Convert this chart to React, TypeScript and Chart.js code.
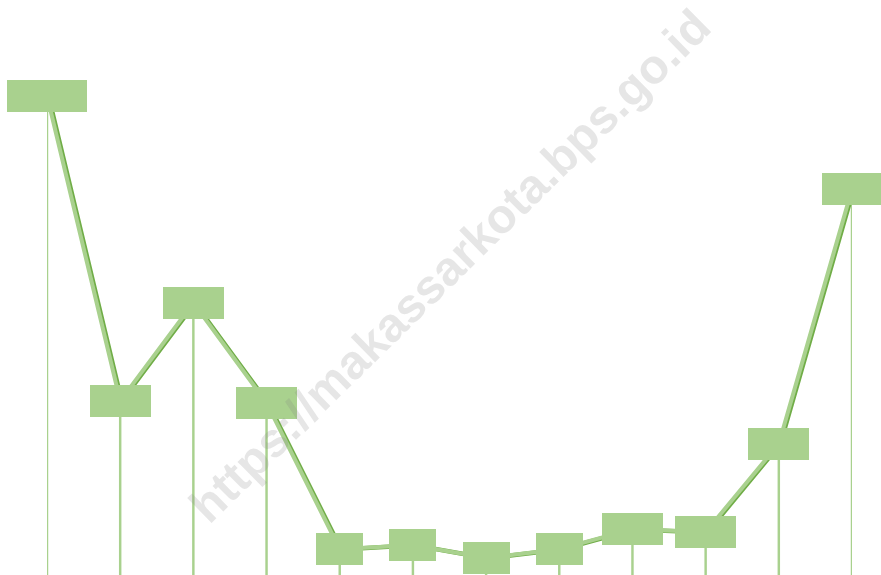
import React, { useEffect, useRef } from "react";
import { Chart, registerables } from "chart.js";

Chart.register(...registerables);

// Months (category axis, hidden in the picture)
const months = ["Jan", "Feb", "Mar", "Apr", "Mei", "Jun", "Jul", "Agu", "Sep", "Okt", "Nov", "Des"];
// Series values
const values = [115.0, 41.8, 65.3, 41.3, 6.2, 7.2, 4.1, 6.2, 11.0, 10.3, 31.5, 92.6];
const yMin = 0;
const yMax = 138;
const watermark = "https://makassarkota.bps.go.id";

const LIGHT = "#a9d18e";
const DARK = "#70ad47";

function boxWidth(v: number): number {
  const digits = Math.floor(Math.abs(v)).toString().length;
  if (digits >= 3) return 80;
  if (digits === 2) return 61;
  return 47;
}

const shiftPlugin = {
  id: "shiftDark",
  beforeDatasetDraw(chart: any, args: any) {
    if (args.index === 1) {
      chart.ctx.save();
      chart.ctx.translate(1.5, 0.3);
    }
  },
  afterDatasetDraw(chart: any, args: any) {
    if (args.index === 1) chart.ctx.restore();
  },
};

const boxesPlugin = {
  id: "labelBoxes",
  afterDatasetsDraw(chart: any) {
    const ctx = chart.ctx;
    const meta = chart.getDatasetMeta(2);
    ctx.save();
    ctx.fillStyle = LIGHT;
    meta.data.forEach((pt: any, i: number) => {
      const w = boxWidth(values[i]);
      const h = 32;
      ctx.fillRect(Math.round(pt.x - w / 2), Math.round(pt.y - h / 2), w, h);
    });
    ctx.restore();
  },
  afterDraw(chart: any) {
    const ctx = chart.ctx;
    ctx.save();
    ctx.translate(452, 268);
    ctx.rotate(-44.5 * Math.PI / 180);
    ctx.font = "bold 48px 'Liberation Sans', Arial, sans-serif";
    ctx.textAlign = "center";
    ctx.textBaseline = "middle";
    ctx.fillStyle = "rgba(128,128,128,0.2)";
    ctx.fillText(watermark, 0, 0);
    ctx.restore();
  },
};

export default function App() {
  const ref = useRef<HTMLCanvasElement | null>(null);
  useEffect(() => {
    if (!ref.current) return;
    const chart = new Chart(ref.current, {
      type: "line",
      data: {
        labels: months,
        datasets: [
          {
            type: "bar",
            data: values,
            backgroundColor: LIGHT,
            barThickness: 1.8,
            order: 3,
          } as any,
          {
            type: "line",
            data: values,
            borderColor: DARK,
            borderWidth: 4.5,
            pointRadius: 0,
            tension: 0,
            order: 2,
          },
          {
            type: "line",
            data: values,
            borderColor: LIGHT,
            borderWidth: 4,
            pointRadius: 0,
            tension: 0,
            order: 1,
          },
        ],
      },
      options: {
        animation: false,
        responsive: false,
        events: [],
        layout: { padding: { left: 47, right: 29, top: 0, bottom: 0 } },
        plugins: { legend: { display: false }, tooltip: { enabled: false } },
        scales: {
          x: { display: false, offset: false, grid: { offset: false } },
          y: { display: false, min: yMin, max: yMax },
        },
      },
      plugins: [shiftPlugin, boxesPlugin],
    });
    return () => chart.destroy();
  }, []);
  return (
    <div style={{ position: "fixed", left: 0, top: 0, width: 881, height: 575, background: "#fff" }}>
      <canvas ref={ref} width={881} height={575} style={{ display: "block" }} />
    </div>
  );
}
